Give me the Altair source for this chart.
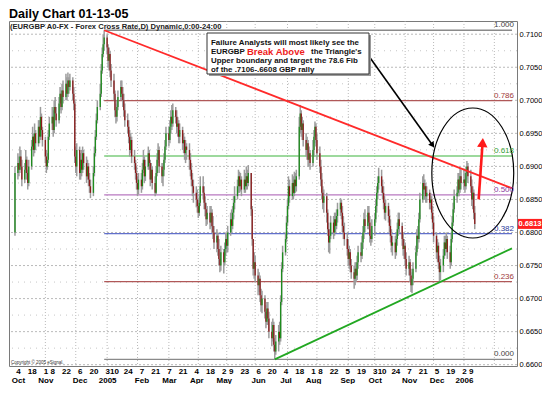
import altair as alt
import pandas as pd

TITLE = "Daily Chart 01-13-05"
HEADER = "(EURGBP A0-FX - Forex Cross Rate,D) Dynamic,0:00-24:00"
COPYRIGHT = "Copyright \u00a9 2005 eSignal."

# ---------------- daily EURGBP candles: (close, high, low); open = previous close
first_open = 0.6800
oct_2004 = [(0.6890,0.6900,0.6795),(0.6905,0.6920,0.6880),(0.6895,0.6915,0.6885),(0.6915,0.6930,0.6890),(0.6900,0.6925,0.6895),
            (0.6880,0.6910,0.6870),(0.6895,0.6905,0.6875),(0.6910,0.6925,0.6890),(0.6890,0.6915,0.6880),(0.6875,0.6895,0.6865),
            (0.6900,0.6910,0.6870),(0.6930,0.6940,0.6895),(0.6945,0.6960,0.6925),(0.6925,0.6950,0.6915),(0.6950,0.6965,0.6920),
            (0.6935,0.6955,0.6925),(0.6960,0.6970,0.6930),(0.6945,0.6970,0.6935),(0.6975,0.6990,0.6940),(0.6955,0.6980,0.6945),
            (0.6940,0.6960,0.6930)]
nov_2004 = [(0.6915,0.6945,0.6905),(0.6900,0.6925,0.6890),(0.6910,0.6920,0.6895),(0.6945,0.6955,0.6905),(0.6965,0.6975,0.6940),
            (0.6975,0.6990,0.6955),(0.6955,0.6985,0.6945),(0.6990,0.7000,0.6950),(0.6980,0.7005,0.6970),(0.6970,0.6990,0.6960),
            (0.6995,0.7005,0.6965),(0.7010,0.7020,0.6985),(0.6990,0.7015,0.6980),(0.7015,0.7025,0.6985),(0.7005,0.7030,0.6995),
            (0.7025,0.7040,0.7000),(0.7010,0.7035,0.7000),(0.7030,0.7042,0.7005),(0.7020,0.7035,0.7010),(0.7030,0.7040,0.7015),
            (0.7010,0.7035,0.7000),(0.6995,0.7020,0.6985)]
dec_2004 = [(0.6915,0.7000,0.6905),(0.6900,0.6930,0.6890),(0.6925,0.6935,0.6885),(0.6890,0.6930,0.6880),(0.6910,0.6920,0.6880),
            (0.6895,0.6925,0.6885),(0.6920,0.6930,0.6890),(0.6905,0.6925,0.6895),(0.6885,0.6915,0.6875),(0.6900,0.6910,0.6880),
            (0.6880,0.6905,0.6870),(0.6870,0.6890,0.6860),(0.6860,0.6880,0.6852),(0.6890,0.6900,0.6855),(0.6920,0.6930,0.6885),
            (0.6945,0.6955,0.6915),(0.6970,0.6980,0.6940),(0.6990,0.7000,0.6965),(0.7010,0.7025,0.6985),(0.7045,0.7055,0.7005),
            (0.7070,0.7080,0.7040),(0.7085,0.7100,0.7065),(0.7095,0.7106,0.7075)]
jan_2005 = [(0.7080,0.7100,0.7070),(0.7060,0.7085,0.7050),(0.7070,0.7080,0.7045),(0.7045,0.7075,0.7035),(0.7030,0.7055,0.7020),
            (0.7010,0.7040,0.7000),(0.6985,0.7015,0.6975),(0.6975,0.6995,0.6965),(0.6990,0.7000,0.6968),(0.7005,0.7015,0.6985),
            (0.7020,0.7030,0.7000),(0.7010,0.7030,0.7000),(0.7000,0.7020,0.6990),(0.6985,0.7010,0.6975),(0.6970,0.6995,0.6960),
            (0.6960,0.6980,0.6950),(0.6945,0.6970,0.6935),(0.6925,0.6955,0.6915),(0.6940,0.6950,0.6920),(0.6915,0.6945,0.6905),
            (0.6905,0.6925,0.6895)]
feb_2005 = [(0.6890,0.6910,0.6880),(0.6875,0.6900,0.6865),(0.6865,0.6885,0.6855),(0.6880,0.6890,0.6858),(0.6870,0.6890,0.6860),
            (0.6895,0.6905,0.6865),(0.6910,0.6925,0.6890),(0.6885,0.6915,0.6875),(0.6900,0.6910,0.6878),(0.6920,0.6930,0.6895),
            (0.6905,0.6925,0.6895),(0.6880,0.6910,0.6870),(0.6895,0.6905,0.6875),(0.6875,0.6900,0.6865),(0.6860,0.6885,0.6855),
            (0.6890,0.6900,0.6858),(0.6910,0.6920,0.6885),(0.6925,0.6935,0.6905),(0.6900,0.6930,0.6890),(0.6885,0.6905,0.6875)]
mar_2005 = [(0.6895,0.6905,0.6870),(0.6910,0.6920,0.6885),(0.6930,0.6940,0.6905),(0.6950,0.6960,0.6925),(0.6940,0.6960,0.6930),
            (0.6960,0.6970,0.6935),(0.6975,0.6985,0.6950),(0.6965,0.6993,0.6955),(0.6985,0.6995,0.6960),(0.6975,0.6990,0.6965),
            (0.6960,0.6985,0.6950),(0.6965,0.6975,0.6945),(0.6945,0.6970,0.6935),(0.6955,0.6965,0.6935),(0.6935,0.6960,0.6925),
            (0.6940,0.6950,0.6920),(0.6920,0.6945,0.6910),(0.6930,0.6940,0.6905),(0.6925,0.6935,0.6910),(0.6910,0.6935,0.6895),
            (0.6895,0.6920,0.6885),(0.6880,0.6905,0.6870),(0.6870,0.6890,0.6855)]
apr_2005 = [(0.6860,0.6880,0.6845),(0.6850,0.6870,0.6838),(0.6840,0.6865,0.6830),(0.6830,0.6850,0.6822),(0.6845,0.6855,0.6825),
            (0.6870,0.6885,0.6840),(0.6860,0.6885,0.6850),(0.6845,0.6870,0.6835),(0.6835,0.6855,0.6825),(0.6820,0.6845,0.6810),
            (0.6830,0.6840,0.6812),(0.6815,0.6840,0.6805),(0.6830,0.6840,0.6808),(0.6810,0.6835,0.6800),(0.6800,0.6825,0.6790),
            (0.6785,0.6810,0.6775),(0.6795,0.6805,0.6770),(0.6775,0.6800,0.6765),(0.6760,0.6790,0.6750),(0.6750,0.6775,0.6740),
            (0.6770,0.6780,0.6742)]
may_2005 = [(0.6755,0.6775,0.6738),(0.6775,0.6785,0.6750),(0.6790,0.6800,0.6765),(0.6780,0.6800,0.6770),(0.6800,0.6810,0.6770),
            (0.6820,0.6830,0.6795),(0.6810,0.6835,0.6800),(0.6830,0.6840,0.6805),(0.6845,0.6855,0.6820),(0.6855,0.6870,0.6835),
            (0.6870,0.6880,0.6850),(0.6885,0.6895,0.6860),(0.6870,0.6892,0.6860),(0.6880,0.6890,0.6862),(0.6865,0.6885,0.6855),
            (0.6880,0.6895,0.6860),(0.6870,0.6890,0.6860),(0.6885,0.6900,0.6865),(0.6875,0.6895,0.6865),(0.6890,0.6902,0.6870),
            (0.6835,0.6880,0.6825),(0.6790,0.6840,0.6780)]
jun_2005 = [(0.6745,0.6790,0.6735),(0.6755,0.6770,0.6730),(0.6735,0.6765,0.6725),(0.6720,0.6745,0.6705),(0.6730,0.6740,0.6710),
            (0.6705,0.6735,0.6695),(0.6690,0.6715,0.6680),(0.6700,0.6712,0.6678),(0.6680,0.6705,0.6670),(0.6665,0.6690,0.6655),
            (0.6685,0.6695,0.6660),(0.6670,0.6695,0.6660),(0.6650,0.6680,0.6640),(0.6640,0.6665,0.6628),(0.6660,0.6670,0.6635),
            (0.6630,0.6665,0.6620),(0.6620,0.6640,0.6608),(0.6635,0.6645,0.6615),(0.6650,0.6660,0.6620),(0.6640,0.6665,0.6630),
            (0.6695,0.6705,0.6635),(0.6745,0.6755,0.6690)]
jul_2005 = [(0.6770,0.6780,0.6740),(0.6790,0.6800,0.6765),(0.6815,0.6825,0.6785),(0.6840,0.6850,0.6810),(0.6870,0.6885,0.6835),
            (0.6855,0.6880,0.6845),(0.6875,0.6888,0.6850),(0.6860,0.6885,0.6850),(0.6880,0.6892,0.6855),(0.6870,0.6890,0.6860),
            (0.6885,0.6895,0.6862),(0.6960,0.6975,0.6880),(0.6980,0.6993,0.6950),(0.6955,0.6985,0.6945),(0.6965,0.6975,0.6940),
            (0.6940,0.6970,0.6930),(0.6925,0.6950,0.6915),(0.6935,0.6945,0.6910),(0.6910,0.6940,0.6900),(0.6920,0.6930,0.6900),
            (0.6905,0.6925,0.6895)]
aug_2005 = [(0.6925,0.6940,0.6900),(0.6945,0.6955,0.6915),(0.6960,0.6968,0.6935),(0.6940,0.6965,0.6930),(0.6920,0.6950,0.6910),
            (0.6900,0.6930,0.6890),(0.6880,0.6910,0.6870),(0.6860,0.6890,0.6850),(0.6845,0.6870,0.6835),(0.6855,0.6865,0.6830),
            (0.6830,0.6860,0.6815),(0.6805,0.6835,0.6795),(0.6785,0.6815,0.6770),(0.6795,0.6805,0.6768),(0.6815,0.6825,0.6790),
            (0.6800,0.6825,0.6790),(0.6820,0.6830,0.6795),(0.6810,0.6830,0.6800),(0.6825,0.6835,0.6805),(0.6835,0.6845,0.6815),
            (0.6845,0.6852,0.6825),(0.6830,0.6850,0.6820),(0.6810,0.6840,0.6800)]
sep_2005 = [(0.6800,0.6825,0.6790),(0.6790,0.6815,0.6780),(0.6775,0.6800,0.6765),(0.6760,0.6790,0.6750),(0.6770,0.6780,0.6745),
            (0.6750,0.6775,0.6740),(0.6740,0.6760,0.6730),(0.6730,0.6750,0.6715),(0.6745,0.6755,0.6720),(0.6735,0.6755,0.6725),
            (0.6755,0.6765,0.6728),(0.6770,0.6780,0.6745),(0.6765,0.6785,0.6755),(0.6785,0.6795,0.6760),(0.6800,0.6810,0.6775),
            (0.6820,0.6830,0.6790),(0.6810,0.6835,0.6800),(0.6830,0.6840,0.6805),(0.6815,0.6840,0.6805),(0.6795,0.6825,0.6785),
            (0.6790,0.6805,0.6780),(0.6810,0.6820,0.6785)]
oct_2005 = [(0.6820,0.6830,0.6795),(0.6840,0.6850,0.6815),(0.6860,0.6870,0.6830),(0.6875,0.6885,0.6850),(0.6885,0.6898,0.6865),
            (0.6870,0.6895,0.6860),(0.6860,0.6880,0.6850),(0.6845,0.6870,0.6835),(0.6830,0.6855,0.6820),(0.6840,0.6850,0.6818),
            (0.6825,0.6845,0.6815),(0.6810,0.6835,0.6800),(0.6795,0.6820,0.6785),(0.6780,0.6805,0.6770),(0.6785,0.6795,0.6765),
            (0.6770,0.6795,0.6760),(0.6790,0.6800,0.6765),(0.6805,0.6815,0.6780),(0.6820,0.6830,0.6795),(0.6810,0.6830,0.6800),
            (0.6790,0.6815,0.6780)]
nov_2005 = [(0.6775,0.6800,0.6765),(0.6780,0.6790,0.6760),(0.6760,0.6785,0.6750),(0.6745,0.6770,0.6735),(0.6755,0.6765,0.6735),
            (0.6735,0.6760,0.6725),(0.6720,0.6745,0.6710),(0.6730,0.6740,0.6708),(0.6745,0.6755,0.6720),(0.6770,0.6780,0.6740),
            (0.6795,0.6805,0.6765),(0.6790,0.6810,0.6775),(0.6820,0.6830,0.6785),(0.6850,0.6860,0.6815),(0.6875,0.6885,0.6845),
            (0.6865,0.6888,0.6855),(0.6870,0.6880,0.6850),(0.6855,0.6875,0.6845),(0.6860,0.6870,0.6845),(0.6845,0.6865,0.6835),
            (0.6850,0.6860,0.6835),(0.6830,0.6855,0.6820)]
dec_2005 = [(0.6815,0.6840,0.6805),(0.6795,0.6825,0.6785),(0.6770,0.6800,0.6760),(0.6780,0.6790,0.6755),(0.6755,0.6785,0.6745),
            (0.6740,0.6765,0.6725),(0.6750,0.6760,0.6728),(0.6765,0.6775,0.6740),(0.6785,0.6795,0.6760),(0.6775,0.6795,0.6765),
            (0.6790,0.6800,0.6770),(0.6770,0.6795,0.6760),(0.6755,0.6780,0.6745),(0.6790,0.6800,0.6750),(0.6815,0.6825,0.6785),
            (0.6835,0.6845,0.6810),(0.6855,0.6865,0.6830),(0.6860,0.6870,0.6845),(0.6880,0.6890,0.6855),(0.6865,0.6890,0.6855),
            (0.6885,0.6898,0.6860),(0.6875,0.6895,0.6865)]
jan_2006 = [(0.6880,0.6895,0.6865),(0.6870,0.6890,0.6860),(0.6890,0.6900,0.6865),(0.6900,0.6908,0.6880),(0.6885,0.6905,0.6875),
            (0.6870,0.6895,0.6860),(0.6850,0.6880,0.6840),(0.6860,0.6870,0.6835),(0.6830,0.6865,0.6820),(0.6813,0.6840,0.6805)]

month_starts = ["2004-10-01", "2004-11-01", "2004-12-01", "2005-01-03", "2005-02-01", "2005-03-01", "2005-04-01",
                "2005-05-02", "2005-06-01", "2005-07-01", "2005-08-01", "2005-09-01", "2005-10-03", "2005-11-01",
                "2005-12-01", "2006-01-02"]
month_data = [oct_2004, nov_2004, dec_2004, jan_2005, feb_2005, mar_2005, apr_2005, may_2005, jun_2005,
              jul_2005, aug_2005, sep_2005, oct_2005, nov_2005, dec_2005, jan_2006]

# ---------------- Fibonacci retracement of the .7106 - .6608 move
fib_high = 0.7106
fib_low = 0.6608
fib_from = "2004-12-31"
fib_to = "2006-02-20"
fib_ratios = [1.0, 0.786, 0.618, 0.5, 0.382, 0.236, 0.0]
fib_names = ["1.000", "0.786", "0.618", "0.500", "0.382", "0.236", "0.000"]
fib_line_colors = ["#8a8a8a", "#b05858", "#7ccc7c", "#b878c0", "#6270cc", "#b05858", "#8a8a8a"]
fib_text_colors = ["#444444", "#a03a3a", "#33a033", "#8a3aa0", "#2a3a9a", "#a03a3a", "#444444"]

# ---------------- triangle boundaries
upper_dates = ["2004-12-31", "2006-02-20"]
upper_prices = [0.7106, 0.6867]
lower_dates = ["2005-06-23", "2006-02-20"]
lower_prices = [0.6608, 0.6776]

# ---------------- annotation anchors (date, price)
black_arrow_dates = ["2005-09-24", "2005-12-01"]
black_arrow_prices = [0.7073, 0.6932]
red_arrow_dates = ["2006-01-17", "2006-01-21"]
red_arrow_prices = [0.6850, 0.6936]
circle_date = "2006-01-11"
circle_price = 0.6890
last_price = 0.6813

# ---------------- axis ticks / grid
price_ticks = [0.6600, 0.6650, 0.6700, 0.6750, 0.6800, 0.6850, 0.6900, 0.6950, 0.7000, 0.7050, 0.7100]
price_minor = [0.6625, 0.6675, 0.6725, 0.6775, 0.6825, 0.6875, 0.6925, 0.6975, 0.7025, 0.7075]
date_ticks = ["2004-10-04", "2004-10-18", "2004-11-01", "2004-11-08", "2004-11-22", "2004-12-06", "2004-12-20",
              "2005-01-03", "2005-01-10", "2005-01-24", "2005-02-07", "2005-02-21", "2005-03-07", "2005-03-21",
              "2005-04-04", "2005-04-18", "2005-05-02", "2005-05-09", "2005-05-23", "2005-06-06", "2005-06-20",
              "2005-07-04", "2005-07-18", "2005-08-01", "2005-08-08", "2005-08-22", "2005-09-05", "2005-09-19",
              "2005-10-03", "2005-10-10", "2005-10-24", "2005-11-07", "2005-11-21", "2005-12-05", "2005-12-19",
              "2006-01-02", "2006-01-09"]
grid_dates = ["2004-11-01", "2004-12-02", "2005-01-03", "2005-02-03", "2005-03-07", "2005-04-06", "2005-05-05",
              "2005-06-03", "2005-07-06", "2005-08-05", "2005-09-06", "2005-10-03", "2005-11-03", "2005-12-02",
              "2006-01-02", "2006-02-02"]

# ---------------- build tables
rows = []
prev = first_open
for start, days in zip(month_starts, month_data):
    dates = pd.bdate_range(start=start, periods=len(days))
    for d, (c, h, l) in zip(dates, days):
        o = prev
        rows.append(dict(date=d.strftime("%Y-%m-%d"), open=o, close=c,
                         high=max(h, o, c), low=min(l, o, c),
                         dir="up" if c >= o else "down"))
        prev = c
candles = pd.DataFrame(rows)

fib_df = pd.DataFrame({
    "name": fib_names,
    "level": [fib_low + r * (fib_high - fib_low) for r in fib_ratios],
    "d1": fib_from, "d2": fib_to,
    "lc": fib_line_colors, "tc": fib_text_colors,
})


def dt(s):
    t = pd.Timestamp(s)
    return alt.DateTime(year=t.year, month=t.month, date=t.day, utc=True)


W, H = 508, 345
xs = alt.Scale(type="utc", domain=[dt("2004-09-30"), dt("2006-02-20")])
ys = alt.Scale(domain=[0.6598, 0.7120], zero=False, nice=False)

label_expr = ("[utcFormat(datum.value, '%-d'), utcdate(datum.value) <= 7 ? "
              "(utcmonth(datum.value) == 0 ? utcFormat(datum.value, '%Y') : utcFormat(datum.value, '%b')) : '']")
x_axis = alt.Axis(values=[dt(s) for s in date_ticks], labelExpr=label_expr, labelOverlap=False,
                  labelFlush=False, labelBound=False, ticks=False, domain=False, grid=False,
                  labelFontSize=8, labelFontWeight="bold", labelPadding=1, labelLineHeight=9,
                  labelBaseline="top", labelAlign="center", labelColor="black", title=None)
y_axis = alt.Axis(orient="right", values=price_ticks, format=".4f", grid=False, ticks=False, domain=False,
                  labelFontSize=7.5, labelPadding=2, labelColor="black", labelOverlap=False, title=None)


def X(field):
    return alt.X(field, scale=xs, axis=x_axis)


def Y(field):
    return alt.Y(field, scale=ys, axis=y_axis)


one = pd.DataFrame({"k": [0]})

hgrid_major = alt.Chart(pd.DataFrame({"p": price_ticks})).mark_rule(
    color="#a8a8a8", strokeDash=[2, 2], strokeWidth=0.8).encode(y=Y("p:Q"))
hgrid_minor = alt.Chart(pd.DataFrame({"p": price_minor})).mark_rule(
    color="#b8b8b8", strokeDash=[1, 5], strokeWidth=0.8).encode(y=Y("p:Q"))
vgrid = alt.Chart(pd.DataFrame({"d": grid_dates})).mark_rule(
    color="#a8a8a8", strokeDash=[1, 2], strokeWidth=0.8).encode(x=X("d:T"))

fib_lines = alt.Chart(fib_df).mark_rule(strokeWidth=1.3).encode(
    x=X("d1:T"), x2="d2:T", y=Y("level:Q"), stroke=alt.Stroke("lc:N", scale=None))
fib_text = alt.Chart(fib_df).mark_text(align="right", baseline="bottom", dy=-1, fontSize=8).encode(
    x=alt.value(W - 3), y=Y("level:Q"), text="name:N", fill=alt.Fill("tc:N", scale=None))

base = alt.Chart(candles)
wicks = base.mark_rule(color="#9c9c9c", strokeWidth=1.5).encode(
    x=X("date:T"), y=Y("low:Q"), y2="high:Q")
bodies = base.mark_bar(size=1.3).encode(
    x=X("date:T"), y=Y("open:Q"), y2="close:Q",
    color=alt.Color("dir:N", scale=alt.Scale(domain=["up", "down"], range=["#1e8c1e", "#8c1c1c"]), legend=None))

upper_line = alt.Chart(pd.DataFrame({"d": upper_dates, "p": upper_prices})).mark_line(
    color="#ff2a2a", strokeWidth=1.8).encode(x=X("d:T"), y=Y("p:Q"))
lower_line = alt.Chart(pd.DataFrame({"d": lower_dates, "p": lower_prices})).mark_line(
    color="#22a822", strokeWidth=1.8).encode(x=X("d:T"), y=Y("p:Q"))

ellipse_path = ("M0,-1 C0.3479,-1 0.63,-0.5523 0.63,0 C0.63,0.5523 0.3479,1 0,1 "
                "C-0.3479,1 -0.63,0.5523 -0.63,0 C-0.63,-0.5523 -0.3479,-1 0,-1 Z")
circle = alt.Chart(pd.DataFrame({"d": [circle_date], "p": [circle_price]})).mark_point(
    shape=ellipse_path, size=16900, filled=False, color="black", strokeWidth=1.2, opacity=1).encode(
    x=X("d:T"), y=Y("p:Q"))

black_arrow = alt.Chart(pd.DataFrame({"d1": [black_arrow_dates[0]], "d2": [black_arrow_dates[1]],
                                      "p1": [black_arrow_prices[0]], "p2": [black_arrow_prices[1]]})).mark_rule(
    color="black", strokeWidth=1.6).encode(x=X("d1:T"), x2="d2:T", y=Y("p1:Q"), y2="p2:Q")
black_head = alt.Chart(pd.DataFrame({"d": [black_arrow_dates[1]], "p": [black_arrow_prices[1]]})).mark_point(
    shape="triangle-up", filled=True, color="black", size=45, angle=144, opacity=1).encode(
    x=X("d:T"), y=Y("p:Q"))

red_arrow = alt.Chart(pd.DataFrame({"d1": [red_arrow_dates[0]], "d2": [red_arrow_dates[1]],
                                    "p1": [red_arrow_prices[0]], "p2": [red_arrow_prices[1]]})).mark_rule(
    color="#ff1a1a", strokeWidth=2.6).encode(x=X("d1:T"), x2="d2:T", y=Y("p1:Q"), y2="p2:Q")
red_head = alt.Chart(pd.DataFrame({"d": [red_arrow_dates[1]], "p": [red_arrow_prices[1]]})).mark_point(
    shape="triangle-up", filled=True, color="#ff1a1a", size=110, angle=4, opacity=1).encode(
    x=X("d:T"), y=Y("p:Q"))

box_shadow = alt.Chart(one).mark_rect(color="#9a9a9a").encode(
    x=alt.value(200), x2=alt.value(362), y=alt.value(14), y2=alt.value(55))
box = alt.Chart(one).mark_rect(fill="white", stroke="#333333", strokeWidth=1).encode(
    x=alt.value(198), x2=alt.value(360), y=alt.value(12), y2=alt.value(53))


def label(text, x, y, size, color="#111111", weight="bold", align="left", baseline="middle"):
    return alt.Chart(pd.DataFrame({"t": [text]})).mark_text(
        align=align, baseline=baseline, fontSize=size, fontWeight=weight, color=color).encode(
        x=alt.value(x), y=alt.value(y), text="t:N")


ann_layers = [
    label("Failure Analysts will most likely see the", 202, 22, 7.9),
    label("EURGBP", 202, 31, 7.9),
    label("Break Above", 238, 31, 9.5, color="#ee1c1c"),
    label("the Triangle's", 302, 31, 7.9),
    label("Upper boundary and target the 78.6 Fib", 202, 40, 7.9),
    label("of the .7106-.6608 GBP rally", 202, 48.5, 7.9),
]

price_box = alt.Chart(pd.DataFrame({"p": [last_price]})).mark_point(
    shape="M-1.2,-0.5 L1.2,-0.5 L1.2,0.5 L-1.2,0.5 Z", size=400, filled=True, color="#ff2020", opacity=1).encode(
    x=alt.value(W + 13), y=Y("p:Q"))
price_text = alt.Chart(pd.DataFrame({"p": [last_price], "t": ["0.6813"]})).mark_text(
    align="center", baseline="middle", fontSize=7.5, fontWeight="bold", color="white").encode(
    x=alt.value(W + 13), y=Y("p:Q"), text="t:N")

title = label(TITLE, 0, -13, 12.5, color="black", baseline="top")
header = label(HEADER, 1, 1.5, 7.6, color="#222222", baseline="top")
copyright_txt = label(COPYRIGHT, 2, H - 1, 4.5, color="#333333", weight="normal", baseline="bottom")

chart = alt.layer(
    hgrid_minor, hgrid_major, vgrid, fib_lines, wicks, bodies, upper_line, lower_line, circle,
    black_arrow, black_head, red_arrow, red_head, box_shadow, box, *ann_layers,
    fib_text, price_box, price_text, title, header, copyright_txt,
).resolve_scale(
    color="independent", stroke="independent", fill="independent"
).properties(
    width=W, height=H, padding={"left": 0, "top": 0, "right": 0, "bottom": 0}
).configure(
    font="Liberation Sans"
).configure_view(
    stroke="#7a7a7a", strokeWidth=1
)

chart.save("out.html", embed_options={"renderer": "svg", "actions": False})
